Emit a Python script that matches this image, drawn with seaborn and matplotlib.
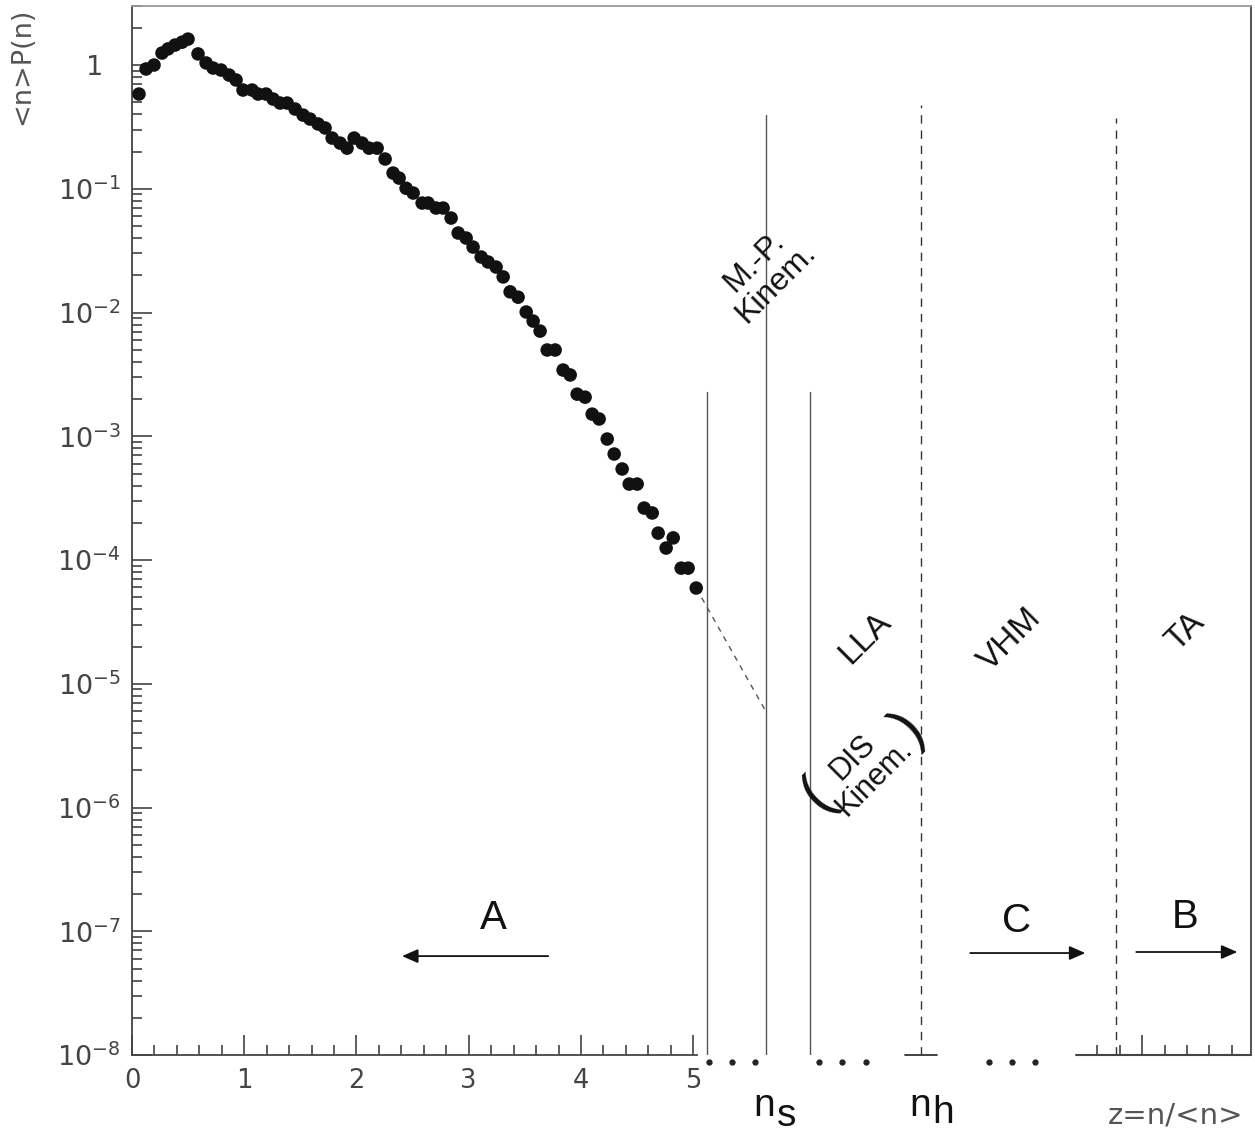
import numpy as np
import pandas as pd
import matplotlib
matplotlib.use("Agg")
import matplotlib.pyplot as plt
import matplotlib.transforms as mtransforms
import seaborn as sns

# Measured multiplicity distribution, z = n/<n>
z = [0.062, 0.125, 0.196, 0.267, 0.321, 0.383, 0.446, 0.499, 0.588, 0.660,
     0.722, 0.793, 0.865, 0.927, 0.989, 1.070, 1.123, 1.194, 1.257, 1.319,
     1.382, 1.453, 1.524, 1.586, 1.658, 1.720, 1.783, 1.854, 1.916, 1.979,
     2.050, 2.112, 2.184, 2.255, 2.326, 2.380, 2.442, 2.505, 2.585, 2.638,
     2.709, 2.772, 2.843, 2.906, 2.977, 3.039, 3.111, 3.173, 3.244, 3.307,
     3.369, 3.440, 3.512, 3.574, 3.636, 3.699, 3.770, 3.841, 3.904, 3.966,
     4.037, 4.100, 4.162, 4.234, 4.296, 4.367, 4.430, 4.501, 4.563, 4.635,
     4.688, 4.759, 4.822, 4.893, 4.955, 5.027]
nPn = [0.583, 0.929, 1.00, 1.25, 1.35, 1.45, 1.53, 1.62, 1.23, 1.04,
       0.946, 0.911, 0.830, 0.757, 0.628, 0.628, 0.583, 0.583, 0.531, 0.493,
       0.493, 0.441, 0.394, 0.366, 0.334, 0.310, 0.257, 0.234, 0.213, 0.257,
       0.234, 0.213, 0.213, 0.174, 0.134, 0.122, 0.101, 0.0924, 0.0767, 0.0767,
       0.0699, 0.0699, 0.0580, 0.0439, 0.0400, 0.0338, 0.0281, 0.0256, 0.0233, 0.0194,
       0.0147, 0.0133, 0.0101, 0.00853, 0.00708, 0.00498, 0.00498, 0.00343, 0.00313, 0.00219,
       0.00207, 0.00151, 0.00138, 0.000950, 0.000719, 0.000544, 0.000411, 0.000411, 0.000263, 0.000240,
       0.000165, 0.000125, 0.000151, 8.6e-5, 8.6e-5, 5.94e-5]

# extrapolation to n_s
extrap_z = [5.027, 5.651]
extrap_y = [5.94e-5, 5.9e-6]

# region boundaries (schematic part of the axis)
solid_z = [5.125, 5.651, 6.043]
solid_top = [2.28e-3, 0.394, 2.28e-3]
dashed_z = [7.032, 8.770]
dashed_top = [0.475, 0.373]
dots_z = [5.143, 5.348, 5.553, 6.123, 6.328, 6.542, 7.638, 7.843, 8.048]

ytick_vals = [1e-8, 1e-7, 1e-6, 1e-5, 1e-4, 1e-3, 1e-2, 1e-1, 1]
ytick_labels = ["$10^{-8}$", "$10^{-7}$", "$10^{-6}$", "$10^{-5}$", "$10^{-4}$",
                "$10^{-3}$", "$10^{-2}$", "$10^{-1}$", "1"]
xtick_major = [0, 1, 2, 3, 4, 5, 9]
xtick_labels = ["0", "1", "2", "3", "4", "5", ""]
xtick_minor = [0.2, 0.4, 0.6, 0.8, 1.2, 1.4, 1.6, 1.8, 2.2, 2.4, 2.6, 2.8,
               3.2, 3.4, 3.6, 3.8, 4.2, 4.4, 4.6, 4.8,
               8.6, 8.8, 9.2, 9.4, 9.6, 9.8]

sns.set_theme(style="white")
plt.rcParams["font.family"] = ["DejaVu Sans"]
plt.rcParams["mathtext.fontset"] = "dejavusans"

fig = plt.figure(figsize=(12.55, 11.32), dpi=100)
ax = fig.add_axes([0.1052, 0.068, 0.8916, 0.9267])

df = pd.DataFrame({"z": z, "nPn": nPn})
sns.scatterplot(data=df, x="z", y="nPn", ax=ax, s=95, color="#111111",
                edgecolor="none", zorder=5)

ax.set_yscale("log")
ax.set_xlim(0, 9.97)
ax.set_ylim(1e-8, 3.0)

gray = "#555555"
ax.plot(extrap_z, extrap_y, ls=(0, (4, 4)), color=gray, lw=1)
for xv, top in zip(solid_z, solid_top):
    ax.plot([xv, xv], [1e-8, top], color=gray, lw=1)
for xv, top in zip(dashed_z, dashed_top):
    ax.plot([xv, xv], [1e-8, top], color="#333333", lw=1, ls=(0, (6, 5)))
ax.plot([6.889, 7.175], [1e-8, 1e-8], color="#333333", lw=1.3, clip_on=False)
ax.plot(dots_z, [8.77e-9] * len(dots_z), ls="none", marker="o", ms=3.5,
        color="#222222", clip_on=False)
ax.plot([8.414, 9.97], [1e-8, 1e-8], color="#444444", lw=1.5, clip_on=False)

# axes styling
for side in ["left", "right", "top", "bottom"]:
    ax.spines[side].set_color("#444444")
    ax.spines[side].set_linewidth(1.3)
ax.spines["top"].set_color("#999999")
ax.spines["bottom"].set_bounds(0, 5.03)

ax.set_xticks(xtick_major)
ax.set_xticklabels(xtick_labels)
ax.set_xticks(xtick_minor, minor=True)
ax.set_yticks(ytick_vals)
ax.set_yticklabels(ytick_labels)
ax.yaxis.set_minor_locator(matplotlib.ticker.LogLocator(base=10, subs=np.arange(2, 10)))
ax.yaxis.set_minor_formatter(matplotlib.ticker.NullFormatter())
ax.tick_params(which="both", direction="in", color="#333333", width=1.1,
               labelcolor="#444444", bottom=True, left=True,
               top=False, right=False)
ax.tick_params(axis="x", labelsize=18.5)
ax.tick_params(axis="y", labelsize=19.5)
ax.tick_params(which="major", length=14.5)
ax.tick_params(which="minor", length=7.2)
ax.tick_params(axis="x", pad=9)
ax.tick_params(axis="y", pad=8)
ax.set_xlabel("")
ax.set_ylabel("")

# the "1" label sits under the "10" of the other labels
one_label = ax.get_yticklabels()[-1]
one_label.set_transform(one_label.get_transform() +
                        mtransforms.ScaledTranslation(-0.18, 0, fig.dpi_scale_trans))

fig.text(0.018, 0.941, "<n>P(n)", rotation=90, fontsize=19.5, color="#555555",
         ha="center", va="center")
fig.text(0.937, 0.0150, "z=n/<n>", fontsize=21, color="#555555",
         ha="center", va="center")

# region annotations
lab = dict(family="Liberation Sans", color="#111111", ha="center", va="center")
ax.text(5.642, 0.0209, "M.-P.\nKinem.", rotation=45, fontsize=23,
        linespacing=1.0, **lab)
ax.text(6.533, 2.34e-5, "LLA", rotation=45, fontsize=24, **lab)
ax.text(7.825, 2.26e-5, "VHM", rotation=45, fontsize=24, **lab)
ax.text(9.385, 2.62e-5, "TA", rotation=45, fontsize=24, **lab)
ax.text(6.52, 2.1e-6, "DIS\nKinem.", rotation=45, fontsize=22,
        linespacing=1.0, **lab)
ax.text(6.10, 1.25e-6, "(", rotation=45, fontsize=42, **lab)
ax.text(6.93, 4.3e-6, ")", rotation=45, fontsize=42, **lab)
ax.text(3.217, 1.28e-7, "A", fontsize=29, **lab)
ax.text(7.879, 1.21e-7, "C", fontsize=29, **lab)
ax.text(9.385, 1.30e-7, "B", fontsize=29, **lab)

arrow = dict(arrowstyle="-|>,head_length=0.8,head_width=0.35", color="#111111",
             lw=1.3, shrinkA=0, shrinkB=0)
ax.annotate("", xy=(2.406, 6.3e-8), xytext=(3.708, 6.3e-8), arrowprops=arrow)
ax.annotate("", xy=(8.494, 6.67e-8), xytext=(7.469, 6.67e-8), arrowprops=arrow)
ax.annotate("", xy=(9.848, 6.8e-8), xytext=(8.948, 6.8e-8), arrowprops=arrow)

ax.text(5.63, 3.9e-9, "n", fontsize=28, **lab)
ax.text(5.83, 3.2e-9, "s", fontsize=28, **lab)
ax.text(7.02, 3.9e-9, "n", fontsize=28, **lab)
ax.text(7.23, 3.4e-9, "h", fontsize=28, **lab)

fig.savefig("out.png", dpi=100, facecolor="white")
